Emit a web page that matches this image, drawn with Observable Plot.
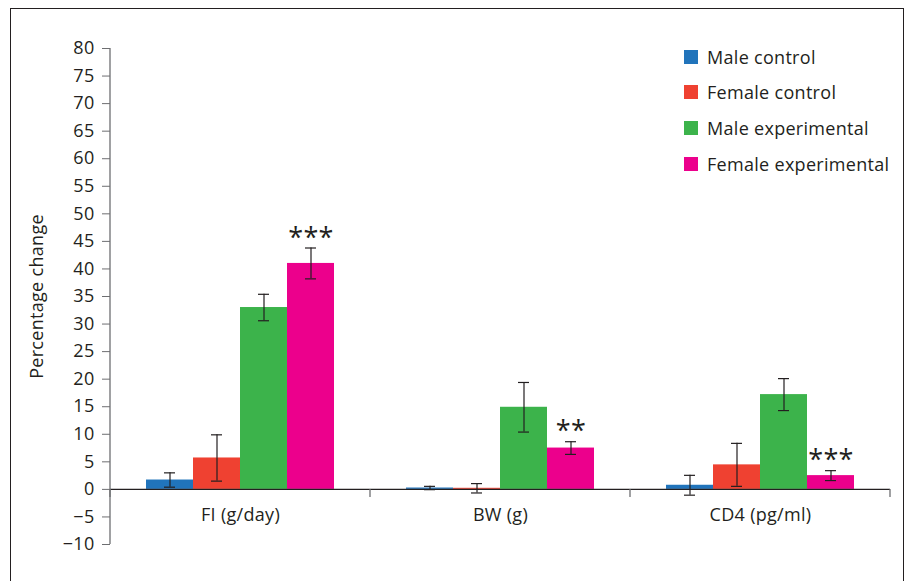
<!DOCTYPE html>
<html>
<head>
<meta charset="utf-8">
<script src="https://cdn.jsdelivr.net/npm/d3@7"></script>
<script src="https://cdn.jsdelivr.net/npm/@observablehq/plot@0.6"></script>
<style>
  html, body { margin: 0; padding: 0; background: #fff; }
  #wrap { position: relative; width: 909px; height: 581px; overflow: hidden; font-family: "Open Sans", sans-serif; color: #231f20; }
  #border { position: absolute; left: 10px; top: 8px; width: 892px; height: 640px; border: 1.5px solid #231f20; pointer-events: none; }
  #legend { position: absolute; left: 684px; top: 39px; font-size: 18px; letter-spacing: 0.3px; }
  .item { display: flex; align-items: center; height: 35.6px; }
  .sw { width: 14px; height: 14px; margin-right: 9px; }
  svg text { letter-spacing: 0.3px; }
</style>
</head>
<body>
<div id="wrap">
  <div id="chart"></div>
  <div id="legend"></div>
  <div id="border"></div>
</div>
<script>
// ---- data ----
const categories = ["FI (g/day)", "BW (g)", "CD4 (pg/ml)"];
const series = ["Male control", "Female control", "Male experimental", "Female experimental"];
const colors = ["#2174bb", "#ef4131", "#3cb34b", "#ec008c"];

const maleControl = [1.7, 0.25, 0.75];
const femaleControl = [5.7, 0.2, 4.45];
const maleExperimental = [33.0, 14.9, 17.2];
const femaleExperimental = [41.0, 7.5, 2.5];

const maleControlErr = [1.3, 0.3, 1.8];
const femaleControlErr = [4.2, 0.85, 3.9];
const maleExperimentalErr = [2.4, 4.5, 2.9];
const femaleExperimentalErr = [2.8, 1.15, 0.9];

const significance = ["***", "**", "***"]; // over Female experimental
const yTicks = [-10, -5, 0, 5, 10, 15, 20, 25, 30, 35, 40, 45, 50, 55, 60, 65, 70, 75, 80];

// ---- table ----
const values = [maleControl, femaleControl, maleExperimental, femaleExperimental];
const errs = [maleControlErr, femaleControlErr, maleExperimentalErr, femaleExperimentalErr];
const data = [];
categories.forEach((c, ci) => series.forEach((s, si) => {
  data.push({category: c, series: s, value: values[si][ci], err: errs[si][ci]});
}));
const stars = categories.map((c, ci) => ({
  category: c, series: series[3],
  top: femaleExperimental[ci] + femaleExperimentalErr[ci], text: significance[ci]
}));

const ink = "#231f20";
const plot = Plot.plot({
  width: 909,
  height: 581,
  marginLeft: 110,
  marginRight: 19,
  marginTop: 48,
  marginBottom: 37,
  style: {fontFamily: "Open Sans", fontSize: "18px", color: ink, background: "transparent"},
  fx: {domain: categories, padding: 0, axis: null},
  x: {domain: series, paddingInner: 0, paddingOuter: 0.72, axis: null},
  y: {domain: [-10, 80], axis: null},
  color: {domain: series, range: colors},
  marks: [
    Plot.axisY({ticks: yTicks, tickSize: 8, tickPadding: 8, stroke: "#6d6e71",
      label: "Percentage change", labelAnchor: "center", labelArrow: "none", labelOffset: 80, fontSize: 18}),
    Plot.barY(data, {fx: "category", x: "series", y: "value", fill: "series"}),
    Plot.ruleY([0], {stroke: ink, strokeWidth: 1.2}),
    Plot.ruleX(data, {fx: "category", x: "series", y1: d => d.value - d.err, y2: d => d.value + d.err, stroke: ink, strokeWidth: 1.2}),
    Plot.tickY(data, {fx: "category", x: "series", y: d => d.value - d.err, stroke: ink, strokeWidth: 1.2, insetLeft: 18, insetRight: 18}),
    Plot.tickY(data, {fx: "category", x: "series", y: d => d.value + d.err, stroke: ink, strokeWidth: 1.2, insetLeft: 18, insetRight: 18}),
    Plot.text(stars, {fx: "category", x: "series", y: "top", text: "text", dy: -10, fontSize: 27, fill: ink}),
    Plot.text(categories, {fx: d => d, y: () => 0, text: d => d, dy: 26, fontSize: 18, fill: ink})
  ]
});

// y axis line and category boundary ticks, from the plot's own scales
const svg = d3.select(plot);
const ys = plot.scale("y");
const fxs = plot.scale("fx");
const x0 = fxs.apply(categories[0]);
svg.append("line").attr("x1", x0).attr("x2", x0)
  .attr("y1", ys.apply(80)).attr("y2", ys.apply(-10))
  .attr("stroke", "#6d6e71").attr("stroke-width", 1.3);
const bounds = categories.map(c => fxs.apply(c)).concat([fxs.apply(categories[categories.length - 1]) + fxs.bandwidth]);
const y0 = ys.apply(0);
bounds.forEach(b => {
  svg.append("line").attr("x1", b).attr("x2", b).attr("y1", y0).attr("y2", y0 + 8)
    .attr("stroke", "#6d6e71").attr("stroke-width", 1.3);
});
document.getElementById("chart").appendChild(plot);

// legend
const legend = d3.select("#legend");
series.forEach((s, i) => {
  const it = legend.append("div").attr("class", "item");
  it.append("div").attr("class", "sw").style("background", colors[i]);
  it.append("span").text(s);
});
</script>
</body>
</html>
